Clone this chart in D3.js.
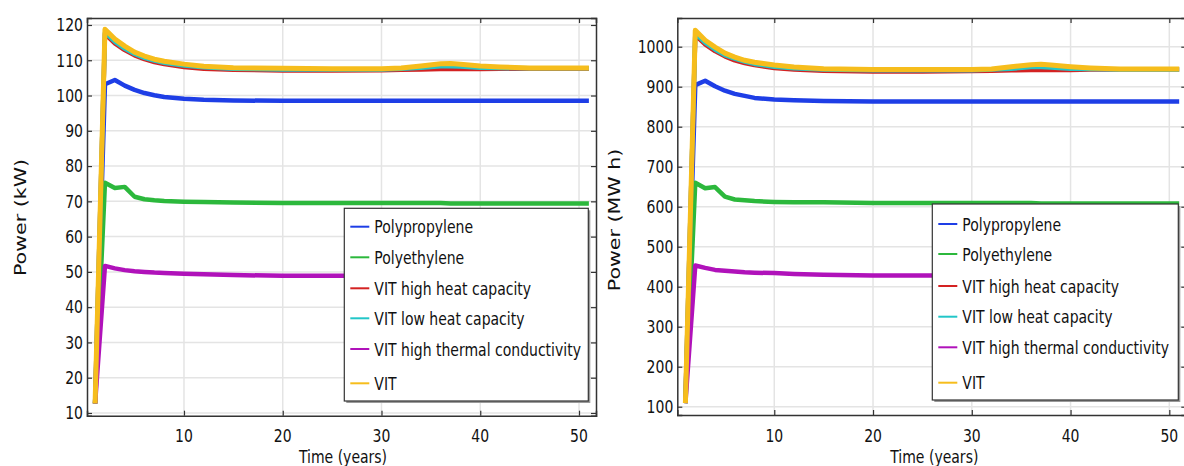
<!DOCTYPE html>
<html>
<head>
<meta charset="utf-8">
<script src="https://cdn.jsdelivr.net/npm/d3@7"></script>
<style>
  html, body { margin: 0; padding: 0; background: #fff; }
  svg { display: block; }
  text { font-family: "DejaVu Sans", sans-serif; fill: #111; }
</style>
</head>
<body>
<svg id="chart" width="1184" height="466"></svg>
<script>
// ---------------- DATA ----------------
const seriesNames = ["Polypropylene", "Polyethylene", "VIT high heat capacity",
  "VIT low heat capacity", "VIT high thermal conductivity", "VIT"];

const times = [1, 2, 3, 4, 5, 6, 7, 8, 10, 12, 15, 20, 25, 30, 32, 34, 36, 37, 38, 40, 42, 45, 51];

// Left panel: Power (kW)
const kwPolypropylene = [12.7, 103.2, 104.4, 102.8, 101.6, 100.7, 100.1, 99.6, 99.1, 98.8, 98.6, 98.5, 98.5, 98.5, 98.5, 98.5, 98.5, 98.5, 98.5, 98.5, 98.5, 98.5, 98.5];
const kwPolyethylene  = [12.7, 75.3, 73.8, 74.1, 71.3, 70.6, 70.3, 70.1, 69.9, 69.8, 69.7, 69.5, 69.5, 69.5, 69.5, 69.5, 69.5, 69.4, 69.4, 69.4, 69.4, 69.4, 69.4];
const kwVitHighHeat   = [12.7, 117.5, 114.8, 112.9, 111.4, 110.3, 109.5, 108.9, 108.1, 107.6, 107.3, 107.1, 107.1, 107.2, 107.3, 107.4, 107.5, 107.5, 107.5, 107.5, 107.6, 107.6, 107.6];
const kwVitLowHeat    = [12.7, 117.9, 115.3, 113.3, 111.8, 110.7, 109.9, 109.3, 108.5, 108.0, 107.6, 107.4, 107.4, 107.4, 107.6, 107.9, 108.3, 108.3, 108.2, 107.9, 107.8, 107.7, 107.7];
const kwVitHighCond   = [12.7, 51.7, 51.0, 50.5, 50.2, 50.0, 49.8, 49.7, 49.5, 49.3, 49.1, 48.9, 48.9, 48.9, 48.9, 48.9, 48.9, 48.9, 48.9, 48.9, 48.9, 48.9, 48.9];
const kwVit           = [12.7, 118.8, 116.0, 114.0, 112.3, 111.2, 110.3, 109.7, 108.9, 108.3, 107.9, 107.7, 107.6, 107.6, 107.8, 108.4, 109.0, 109.1, 108.9, 108.4, 108.1, 107.8, 107.8];

// Right panel: Power (MW h)
const mwhPolypropylene = [109, 904, 915, 901, 890, 882, 877, 872, 868, 866, 864, 863, 863, 863, 863, 863, 863, 863, 863, 863, 863, 863, 863];
const mwhPolyethylene  = [109, 660, 646, 649, 625, 618, 616, 614, 612, 611, 611, 609, 609, 609, 609, 609, 609, 608, 608, 608, 608, 608, 608];
const mwhVitHighHeat   = [109, 1029, 1006, 989, 976, 966, 959, 954, 947, 943, 940, 938, 938, 939, 940, 941, 942, 942, 942, 942, 943, 943, 943];
const mwhVitLowHeat    = [109, 1033, 1010, 993, 979, 970, 963, 957, 950, 946, 943, 941, 941, 941, 943, 945, 949, 949, 948, 945, 944, 943, 943];
const mwhVitHighCond   = [109, 453, 447, 442, 440, 438, 436, 435, 434, 432, 430, 428, 428, 428, 428, 428, 428, 428, 428, 428, 428, 428, 428];
const mwhVit           = [109, 1041, 1016, 999, 984, 974, 966, 961, 954, 949, 945, 943, 943, 943, 944, 950, 955, 956, 954, 950, 947, 944, 944];

const xTicks = [10, 20, 30, 40, 50];
const kwTicks = [10, 20, 30, 40, 50, 60, 70, 80, 90, 100, 110, 120];
const mwhTicks = [100, 200, 300, 400, 500, 600, 700, 800, 900, 1000];

// ---------------- STYLE ----------------
const colors = ["#1e3ee6", "#2cb83c", "#d42222", "#22c6c8", "#b012ba", "#f6bd1c"];
const lineWidths = [4.5, 4.5, 4.5, 4.5, 4.5, 5];
const SY = 1.27; // vertical stretch of the source image text

const svg = d3.select("#chart");

function stext(g, x, y, str, anchor) {
  return g.append("text")
    .attr("transform", `translate(${x},${y}) scale(1,${SY})`)
    .attr("text-anchor", anchor)
    .attr("font-size", 14)
    .text(str);
}

function panel(cfg) {
  const g = svg.append("g");
  const x = d3.scaleLinear().domain([0.18, 51.72]).range([cfg.left, cfg.right]);
  const y = d3.scaleLinear().domain(cfg.yDomain).range([cfg.bottom, cfg.top]);

  // clip
  const clipId = "clip" + cfg.id;
  svg.append("clipPath").attr("id", clipId).append("rect")
    .attr("x", cfg.left).attr("y", cfg.top)
    .attr("width", cfg.right - cfg.left).attr("height", cfg.bottom - cfg.top);

  // grid
  const grid = g.append("g").attr("stroke", "#e4e4e4").attr("stroke-width", 1.5);
  grid.selectAll("line.gx").data(xTicks).join("line")
    .attr("x1", d => x(d)).attr("x2", d => x(d))
    .attr("y1", cfg.top).attr("y2", cfg.bottom);
  grid.selectAll("line.gy").data(cfg.yTicks).join("line")
    .attr("x1", cfg.left).attr("x2", cfg.right)
    .attr("y1", d => y(d)).attr("y2", d => y(d));

  // lines
  const lineGen = d3.line().x((d, i) => x(times[i])).y(d => y(d));
  const lg = g.append("g").attr("clip-path", `url(#${clipId})`);
  cfg.series.forEach((s, k) => {
    lg.append("path").datum(s)
      .attr("d", lineGen)
      .attr("fill", "none")
      .attr("stroke", colors[k])
      .attr("stroke-width", lineWidths[k])
      .attr("stroke-linejoin", "round")
      .attr("stroke-linecap", "butt");
  });

  // axes with inward ticks
  const axB = d3.axisBottom(x).tickValues(xTicks).tickSize(-5).tickFormat("");
  const axT = d3.axisTop(x).tickValues(xTicks).tickSize(-5).tickFormat("");
  const axL = d3.axisLeft(y).tickValues(cfg.yTicks).tickSize(-5).tickFormat("");
  const axR = d3.axisRight(y).tickValues(cfg.yTicks).tickSize(-5).tickFormat("");
  [[axB, `translate(0,${cfg.bottom})`], [axT, `translate(0,${cfg.top})`],
   [axL, `translate(${cfg.left},0)`], [axR, `translate(${cfg.right},0)`]].forEach(([ax, tr]) => {
    const a = g.append("g").attr("transform", tr).call(ax);
    a.select(".domain").attr("stroke", "#333").attr("stroke-width", 1.5);
    a.selectAll(".tick line").attr("stroke", "#333").attr("stroke-width", 1.2);
  });

  // tick labels
  xTicks.forEach(t => stext(g, x(t), 441.5, String(t), "middle"));
  cfg.yTicks.forEach(t => stext(g, cfg.left - 4, y(t) + 6.3, String(t), "end"));

  // axis titles
  stext(g, (cfg.left + cfg.right) / 2 - cfg.xTitleShift, 462.5, "Time (years)", "middle");
  g.append("text")
    .attr("transform", `translate(${cfg.yTitleX},${cfg.yTitleY}) rotate(-90) scale(1.33,1)`)
    .attr("text-anchor", "middle")
    .attr("dy", "0.36em")
    .attr("font-size", 15.5)
    .text(cfg.yTitle);

  // legend
  const L = cfg.legend;
  const leg = g.append("g");
  leg.append("rect").attr("x", L.x + 2).attr("y", L.y + 2)
    .attr("width", L.w).attr("height", L.h).attr("fill", "#9a9a9a");
  leg.append("rect").attr("x", L.x).attr("y", L.y)
    .attr("width", L.w).attr("height", L.h)
    .attr("fill", "#fff").attr("stroke", "#333").attr("stroke-width", 1.2);
  seriesNames.forEach((name, k) => {
    const cy = L.rows[k];
    leg.append("line")
      .attr("x1", L.x + 6).attr("x2", L.x + 25)
      .attr("y1", cy).attr("y2", cy)
      .attr("stroke", colors[k]).attr("stroke-width", 2);
    stext(leg, L.x + 30, cy + 6.5, name, "start");
  });
}

panel({
  id: "L", left: 87, right: 596, top: 18, bottom: 415.7,
  yDomain: [9.23, 121.98], yTicks: kwTicks,
  series: [kwPolypropylene, kwPolyethylene, kwVitHighHeat, kwVitLowHeat, kwVitHighCond, kwVit],
  yTitle: "Power (kW)", yTitleX: 20, yTitleY: 217.5, xTitleShift: -1.5,
  legend: { x: 344.3, y: 208.3, w: 244, h: 192.7, rows: [226.7, 257.3, 288.3, 318.3, 349, 383.3] }
});

panel({
  id: "R", left: 677.3, right: 1186.3, top: 18, bottom: 415,
  yDomain: [79.25, 1071.75], yTicks: mwhTicks,
  series: [mwhPolypropylene, mwhPolyethylene, mwhVitHighHeat, mwhVitLowHeat, mwhVitHighCond, mwhVit],
  yTitle: "Power (MW h)", yTitleX: 614, yTitleY: 220, xTitleShift: -2.5,
  legend: { x: 932.3, y: 204, w: 246, h: 196, rows: [224, 254, 286, 316.7, 347.3, 382.7] }
});
</script>
</body>
</html>
